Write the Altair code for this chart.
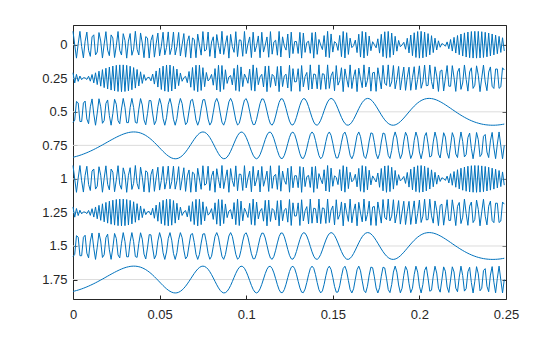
import numpy as np
import pandas as pd
import altair as alt

# ---- values ----------------------------------------------------------------
sample_rate = [1000]                 # samples per second
strip_seconds = [0.25]               # duration of one strip
strip_starts = [0, 0.25, 0.5, 0.75, 1, 1.25, 1.5, 1.75]   # y tick labels
freq_range = [10, 490]               # min / max instantaneous frequency (Hz)
strip_amplitude = [0.1]              # half height of a strip in axis units
x_ticks = [0, 0.05, 0.1, 0.15, 0.2, 0.25]
y_ticks = strip_starts
x_domain = [0, 0.25]
y_domain = [-0.147, 1.895]

# ---- the frequency-modulated sinusoid, cut into strips ----------------------
fs = sample_rate[0]
per_strip = int(round(strip_seconds[0] * fs))
n = per_strip * len(strip_starts)
idx = np.arange(n)
t = idx / fs
fc = (freq_range[0] + freq_range[1]) / 2.0
dev = freq_range[1] - fc
modulator = np.sin(2 * np.pi * t)
signal = np.cos(2 * np.pi * fc * t + 2 * np.pi * dev / fs * np.cumsum(modulator))
signal = signal / np.max(np.abs(signal))

strip = idx // per_strip
df = pd.DataFrame({
    "strip": strip,
    "t": (idx % per_strip) / fs,
    "v": np.array(strip_starts)[strip] - strip_amplitude[0] * signal,
})
grid_df = pd.DataFrame({"y": y_ticks})

font = "Liberation Sans"
ink = "#262626"
xscale = alt.Scale(domain=x_domain, nice=False, zero=False)
yscale = alt.Scale(domain=y_domain, nice=False, zero=False, reverse=True)

common = dict(tickSize=4, tickColor=ink, tickWidth=1, domain=False, grid=False,
              labelFont=font, labelFontSize=13, labelColor=ink, title=None,
              offset=-4, labelFlush=False, labelOverlap=False, format=".2~f")

grid = alt.Chart(grid_df).mark_rule(color="#dcdcdc", strokeWidth=1).encode(
    y=alt.Y("y:Q", scale=yscale, axis=None)
)

line = alt.Chart(df).mark_line(color="#0072BD", strokeWidth=1).encode(
    x=alt.X("t:Q", scale=xscale,
            axis=alt.Axis(orient="bottom", values=x_ticks, labelPadding=9, **common)),
    y=alt.Y("v:Q", scale=yscale,
            axis=alt.Axis(orient="left", values=y_ticks, labelPadding=6, **common)),
    detail="strip:N",
)

frame_axes = alt.Chart(df).mark_line(strokeOpacity=0).encode(
    x=alt.X("t:Q", scale=xscale,
            axis=alt.Axis(orient="top", values=x_ticks, labels=False, **common)),
    y=alt.Y("v:Q", scale=yscale,
            axis=alt.Axis(orient="right", values=y_ticks, labels=False, **common)),
    detail="strip:N",
)

chart = alt.layer(grid, line, frame_axes).resolve_axis(
    x="independent", y="independent"
).properties(
    width=433, height=274,
    padding={"left": 73, "top": 25, "right": 54, "bottom": 38},
    autosize=alt.AutoSizeParams(type="none"),
    background="white",
).configure_view(stroke=ink, strokeWidth=1, fill=None)

chart.save("out.html", embed_options={"renderer": "svg", "actions": False})
